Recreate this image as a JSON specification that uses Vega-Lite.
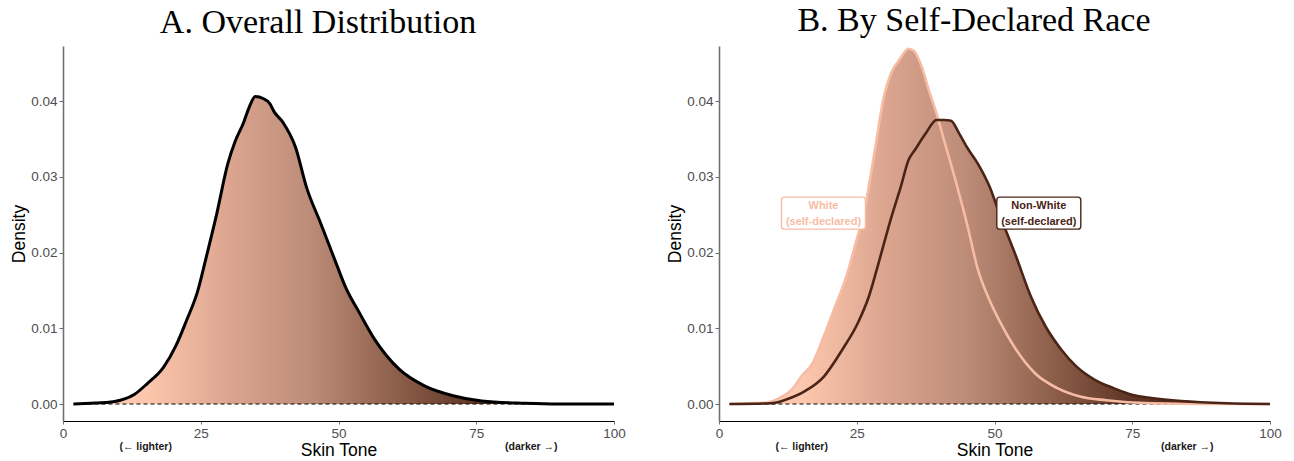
{
  "$schema": "https://vega.github.io/schema/vega-lite/v6.json",
  "background": "white",
  "padding": {"left": 10, "top": 3, "right": 5, "bottom": 5},
  "bounds": "flush",
  "spacing": 105,
  "config": {
    "view": {"stroke": null},
    "axis": {"grid": false, "labelFont": "Liberation Sans", "titleFont": "Liberation Sans", "labelFontSize": 13.5, "labelColor": "#4D4D4D", "titleFontSize": 17.5, "titleFontWeight": "normal", "titleColor": "#000000", "tickColor": "#6E6E6E", "labelFlush": false},
    "axisY": {"domainColor": "#707070", "domainWidth": 1.6, "tickSize": 4, "labelPadding": 2, "titlePadding": 2},
    "axisX": {"domainColor": "#000000", "domainWidth": 1, "tickSize": 3, "labelPadding": 2, "titlePadding": 2},
    "title": {"font": "Liberation Serif", "fontSize": 34, "fontWeight": "normal", "color": "#000000", "anchor": "middle", "frame": "bounds", "baseline": "alphabetic", "offset": 6}
  },
  "datasets": {
    "overall": [
      {"x": 1.9, "density": 0.0}, {"x": 5, "density": 0.0001}, {"x": 7.8, "density": 0.0002}, {"x": 10.4, "density": 0.0005},
      {"x": 13.0, "density": 0.0013}, {"x": 15.3, "density": 0.0027}, {"x": 18.2, "density": 0.0048}, {"x": 20.5, "density": 0.0077},
      {"x": 22.4, "density": 0.0110}, {"x": 24.4, "density": 0.0148}, {"x": 26.0, "density": 0.0194}, {"x": 27.9, "density": 0.0251},
      {"x": 29.9, "density": 0.0317}, {"x": 31.2, "density": 0.0346}, {"x": 32.8, "density": 0.0372}, {"x": 33.8, "density": 0.0392},
      {"x": 34.9, "density": 0.0406}, {"x": 36.4, "density": 0.0403}, {"x": 37.5, "density": 0.0397}, {"x": 38.3, "density": 0.0386},
      {"x": 39.9, "density": 0.0372}, {"x": 42.2, "density": 0.0339}, {"x": 44.2, "density": 0.0286}, {"x": 46.8, "density": 0.0238},
      {"x": 49.4, "density": 0.0189}, {"x": 51.3, "density": 0.0154}, {"x": 53.9, "density": 0.0119}, {"x": 56.5, "density": 0.0086},
      {"x": 61.0, "density": 0.0046}, {"x": 65.6, "density": 0.0024}, {"x": 70.8, "density": 0.0011}, {"x": 76.0, "density": 0.0004},
      {"x": 83.8, "density": 0.0001}, {"x": 90, "density": 0.0}, {"x": 100, "density": 0.0}
    ],
    "byrace": [
      {"group": "White", "x": 1.9, "density": 0.0}, {"group": "White", "x": 5, "density": 0.0001}, {"group": "White", "x": 8.7, "density": 0.0002},
      {"group": "White", "x": 11.5, "density": 0.0010}, {"group": "White", "x": 13.2, "density": 0.0019}, {"group": "White", "x": 14.9, "density": 0.0036},
      {"group": "White", "x": 17.0, "density": 0.0054}, {"group": "White", "x": 19.0, "density": 0.0089}, {"group": "White", "x": 21.1, "density": 0.0129},
      {"group": "White", "x": 23.1, "density": 0.0168}, {"group": "White", "x": 24.8, "density": 0.0212}, {"group": "White", "x": 26.5, "density": 0.0260},
      {"group": "White", "x": 28.2, "density": 0.0331}, {"group": "White", "x": 29.9, "density": 0.0405}, {"group": "White", "x": 31.3, "density": 0.0438},
      {"group": "White", "x": 32.7, "density": 0.0454}, {"group": "White", "x": 34.4, "density": 0.0469}, {"group": "White", "x": 35.4, "density": 0.0466},
      {"group": "White", "x": 36.8, "density": 0.0445}, {"group": "White", "x": 38.1, "density": 0.0414}, {"group": "White", "x": 39.5, "density": 0.0383},
      {"group": "White", "x": 41.2, "density": 0.0339}, {"group": "White", "x": 42.9, "density": 0.0296}, {"group": "White", "x": 45.0, "density": 0.0238},
      {"group": "White", "x": 47.0, "density": 0.0177}, {"group": "White", "x": 49.1, "density": 0.0137}, {"group": "White", "x": 51.1, "density": 0.0107},
      {"group": "White", "x": 53.9, "density": 0.0072}, {"group": "White", "x": 57.3, "density": 0.0041}, {"group": "White", "x": 61.4, "density": 0.0021},
      {"group": "White", "x": 65.5, "density": 0.0010}, {"group": "White", "x": 70.3, "density": 0.0005}, {"group": "White", "x": 78.5, "density": 0.0001},
      {"group": "White", "x": 88, "density": 0.0}, {"group": "White", "x": 100, "density": 0.0},
      {"group": "Non-White", "x": 1.9, "density": 0.0}, {"group": "Non-White", "x": 9.4, "density": 0.0001}, {"group": "Non-White", "x": 12.2, "density": 0.0006},
      {"group": "Non-White", "x": 15.6, "density": 0.0017}, {"group": "Non-White", "x": 19.0, "density": 0.0036}, {"group": "Non-White", "x": 22.4, "density": 0.0072},
      {"group": "Non-White", "x": 25.2, "density": 0.0107}, {"group": "Non-White", "x": 27.2, "density": 0.0142}, {"group": "Non-White", "x": 29.3, "density": 0.0195},
      {"group": "Non-White", "x": 31.3, "density": 0.0247}, {"group": "Non-White", "x": 33.0, "density": 0.0287}, {"group": "Non-White", "x": 34.4, "density": 0.0322},
      {"group": "Non-White", "x": 35.7, "density": 0.0337}, {"group": "Non-White", "x": 37.5, "density": 0.0357}, {"group": "Non-White", "x": 39.5, "density": 0.0375},
      {"group": "Non-White", "x": 40.9, "density": 0.0375}, {"group": "Non-White", "x": 42.1, "density": 0.0374}, {"group": "Non-White", "x": 43.6, "density": 0.0357},
      {"group": "Non-White", "x": 45.0, "density": 0.0339}, {"group": "Non-White", "x": 47.0, "density": 0.0317}, {"group": "Non-White", "x": 49.1, "density": 0.0287},
      {"group": "Non-White", "x": 51.1, "density": 0.0247}, {"group": "Non-White", "x": 53.9, "density": 0.0195}, {"group": "Non-White", "x": 56.6, "density": 0.0142},
      {"group": "Non-White", "x": 59.3, "density": 0.0102}, {"group": "Non-White", "x": 62.1, "density": 0.0072}, {"group": "Non-White", "x": 64.8, "density": 0.0050},
      {"group": "Non-White", "x": 68.2, "density": 0.0032}, {"group": "Non-White", "x": 71.6, "density": 0.0021}, {"group": "Non-White", "x": 75.1, "density": 0.0012},
      {"group": "Non-White", "x": 78.5, "density": 0.0008}, {"group": "Non-White", "x": 83.9, "density": 0.0004}, {"group": "Non-White", "x": 92.1, "density": 0.0001},
      {"group": "Non-White", "x": 100, "density": 0.0}
    ],
    "labels": [
      {"group": "White", "x": 18.96, "density": 0.0252, "label": "White\n(self-declared)"},
      {"group": "Non-White", "x": 58.04, "density": 0.0252, "label": "Non-White\n(self-declared)"}
    ],
    "notes": [
      {"x": 15, "label": "(← lighter)"},
      {"x": 85, "label": "(darker →)"}
    ],
    "zero": [
      {"x": 1.9, "x2": 100, "density": 0}
    ]
  },
  "hconcat": [
    {
      "width": 551,
      "height": 375,
      "title": {"text": "A. Overall Distribution"},
      "layer": [
        {
          "data": {"name": "overall"},
          "mark": {"type": "area", "interpolate": "monotone", "fill": {"gradient": "linear", "x1": 0, "y1": 0, "x2": 1, "y2": 0, "stops": [{"offset": 0, "color": "#FFCFB6"}, {"offset": 0.1335, "color": "#FDC7AD"}, {"offset": 0.2864, "color": "#DCA590"}, {"offset": 0.4393, "color": "#BC8C78"}, {"offset": 0.5923, "color": "#8F604C"}, {"offset": 0.7452, "color": "#5E3524"}, {"offset": 1, "color": "#4A2618"}]}, "opacity": 1},
          "encoding": {
            "x": {"field": "x", "type": "quantitative", "scale": {"domain": [0, 100], "nice": false, "zero": false}, "axis": {"values": [0, 25, 50, 75, 100], "title": "Skin Tone"}},
            "y": {"field": "density", "type": "quantitative", "scale": {"domain": [-0.00224, 0.04726], "nice": false, "zero": false}, "axis": {"values": [0, 0.01, 0.02, 0.03, 0.04], "format": ".2f", "title": "Density"}}
          }
        },
        {
          "data": {"name": "zero"},
          "mark": {"type": "rule", "strokeDash": [4, 3], "color": "#000000", "strokeWidth": 1},
          "encoding": {"x": {"field": "x", "type": "quantitative"}, "x2": {"field": "x2"}, "y": {"field": "density", "type": "quantitative"}}
        },
        {
          "data": {"name": "overall"},
          "mark": {"type": "line", "interpolate": "monotone", "color": "#000000", "strokeWidth": 3},
          "encoding": {"x": {"field": "x", "type": "quantitative"}, "y": {"field": "density", "type": "quantitative"}}
        },
        {
          "data": {"name": "notes"},
          "mark": {"type": "text", "clip": false, "font": "Liberation Sans", "fontWeight": "bold", "fontSize": 10.5, "color": "#1A1A1A", "align": "center", "baseline": "middle"},
          "encoding": {"x": {"field": "x", "type": "quantitative"}, "y": {"datum": -0.0057, "type": "quantitative"}, "text": {"field": "label", "type": "nominal"}}
        }
      ]
    },
    {
      "width": 551,
      "height": 375,
      "title": {"text": "B. By Self-Declared Race"},
      "layer": [
        {
          "data": {"name": "byrace"},
          "mark": {"type": "area", "interpolate": "monotone", "fill": {"gradient": "linear", "x1": 0, "y1": 0, "x2": 1, "y2": 0, "stops": [{"offset": 0, "color": "#FFCFB6"}, {"offset": 0.1335, "color": "#FDC7AD"}, {"offset": 0.2864, "color": "#DCA590"}, {"offset": 0.4393, "color": "#BC8C78"}, {"offset": 0.5923, "color": "#8F604C"}, {"offset": 0.7452, "color": "#5E3524"}, {"offset": 1, "color": "#4A2618"}]}, "opacity": 1},
          "encoding": {
            "x": {"field": "x", "type": "quantitative", "scale": {"domain": [0, 100], "nice": false, "zero": false}, "axis": {"values": [0, 25, 50, 75, 100], "title": "Skin Tone"}},
            "y": {"field": "density", "type": "quantitative", "stack": null, "scale": {"domain": [-0.00224, 0.04726], "nice": false, "zero": false}, "axis": {"values": [0, 0.01, 0.02, 0.03, 0.04], "format": ".2f", "title": "Density"}},
            "detail": {"field": "group"}
          }
        },
        {
          "data": {"name": "zero"},
          "mark": {"type": "rule", "strokeDash": [4, 3], "color": "#000000", "strokeWidth": 1},
          "encoding": {"x": {"field": "x", "type": "quantitative"}, "x2": {"field": "x2"}, "y": {"field": "density", "type": "quantitative"}}
        },
        {
          "data": {"name": "byrace"},
          "mark": {"type": "line", "interpolate": "monotone", "strokeWidth": 2.6},
          "encoding": {
            "x": {"field": "x", "type": "quantitative"},
            "y": {"field": "density", "type": "quantitative", "stack": null},
            "color": {"field": "group", "type": "nominal", "scale": {"domain": ["White", "Non-White"], "range": ["#F7BCA4", "#4A2416"]}, "legend": null}
          }
        },
        {
          "data": {"name": "labels"},
          "mark": {"type": "point", "shape": "M-0.929,-0.381H0.929Q1,-0.381 1,-0.31V0.31Q1,0.381 0.929,0.381H-0.929Q-1,0.381 -1,0.31V-0.31Q-1,-0.381 -0.929,-0.381Z", "size": 7056, "filled": false, "fill": "#FFFFFF", "fillOpacity": 1, "strokeWidth": 1.4, "opacity": 1},
          "encoding": {
            "x": {"field": "x", "type": "quantitative"},
            "y": {"field": "density", "type": "quantitative"},
            "stroke": {"field": "group", "type": "nominal", "scale": {"domain": ["White", "Non-White"], "range": ["#F7BCA4", "#4A2416"]}, "legend": null}
          }
        },
        {
          "data": {"name": "labels"},
          "mark": {"type": "text", "font": "Liberation Sans", "fontWeight": "bold", "fontSize": 11, "lineBreak": "\n", "lineHeight": 16, "align": "center", "baseline": "middle", "dy": -7},
          "encoding": {
            "x": {"field": "x", "type": "quantitative"},
            "y": {"field": "density", "type": "quantitative"},
            "text": {"field": "label", "type": "nominal"},
            "color": {"field": "group", "type": "nominal", "scale": {"domain": ["White", "Non-White"], "range": ["#F7BCA4", "#4A2416"]}, "legend": null}
          }
        },
        {
          "data": {"name": "notes"},
          "mark": {"type": "text", "clip": false, "font": "Liberation Sans", "fontWeight": "bold", "fontSize": 10.5, "color": "#1A1A1A", "align": "center", "baseline": "middle"},
          "encoding": {"x": {"field": "x", "type": "quantitative"}, "y": {"datum": -0.0057, "type": "quantitative"}, "text": {"field": "label", "type": "nominal"}}
        }
      ]
    }
  ]
}
